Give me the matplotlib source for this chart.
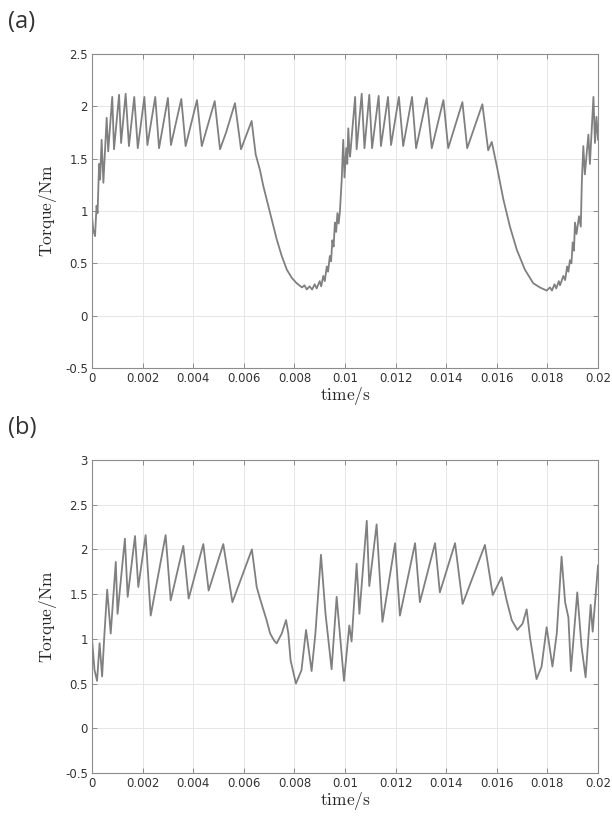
import matplotlib
matplotlib.use("Agg")
import matplotlib.pyplot as plt
import numpy as np

plt.rcParams['mathtext.fontset'] = 'cm'

# ---- data (a) ----
t_a = [0, 0.00005, 0.00012, 0.00018, 0.00022, 0.00028, 0.00032, 0.00038, 0.00045, 0.00058,
       0.00064, 0.0008, 0.00087, 0.00107, 0.00115, 0.00133, 0.00146, 0.00167, 0.00181, 0.00207,
       0.00219, 0.0025, 0.00265, 0.003, 0.00312, 0.00353, 0.0037, 0.00415, 0.00434, 0.00485,
       0.00506, 0.0053, 0.00565, 0.00589, 0.00631, 0.00647, 0.00664, 0.00677, 0.00704, 0.0073,
       0.0075, 0.0077, 0.0079, 0.00809, 0.0083, 0.0084, 0.00849, 0.0086, 0.0087, 0.0088,
       0.00888, 0.009, 0.00906, 0.00914, 0.0092, 0.00928, 0.00933, 0.0094, 0.00945, 0.0095,
       0.00955, 0.0096, 0.00965, 0.0097, 0.00975, 0.0098, 0.00987, 0.00993, 0.00998, 0.01005,
       0.01009, 0.01013, 0.01018, 0.0102, 0.0104, 0.01046, 0.01066, 0.01077, 0.01096, 0.01107,
       0.01133, 0.01142, 0.0117, 0.01182, 0.01213, 0.0123, 0.01265, 0.01281, 0.01323, 0.01343,
       0.01389, 0.01408, 0.01464, 0.01483, 0.01543, 0.01566, 0.0158, 0.016, 0.01626, 0.01652,
       0.01679, 0.01711, 0.01744, 0.0177, 0.01797, 0.0181, 0.01818, 0.01828, 0.01835, 0.01845,
       0.0185, 0.01863, 0.0187, 0.01878, 0.01883, 0.01889, 0.01895, 0.019, 0.01905, 0.01909,
       0.01915, 0.01925, 0.01932, 0.01936, 0.01942, 0.01948, 0.01962, 0.01968, 0.01982, 0.01988,
       0.01994, 0.02]
v_a = [0.95, 0.82, 0.76, 1.05, 0.98, 1.45, 1.30, 1.68, 1.27, 1.89,
       1.57, 2.09, 1.59, 2.11, 1.65, 2.12, 1.62, 2.09, 1.60, 2.09,
       1.63, 2.09, 1.60, 2.08, 1.63, 2.07, 1.62, 2.06, 1.62, 2.05,
       1.59, 1.75, 2.03, 1.59, 1.86, 1.54, 1.39, 1.24, 0.98, 0.73,
       0.57, 0.44, 0.36, 0.31, 0.27, 0.29, 0.25, 0.28, 0.25, 0.30,
       0.26, 0.33, 0.28, 0.38, 0.33, 0.47, 0.42, 0.57, 0.52, 0.72,
       0.66, 0.89, 0.80, 0.98, 0.88, 1.00, 1.30, 1.68, 1.32, 1.60,
       1.45, 1.79, 1.55, 1.52, 2.09, 1.59, 2.12, 1.60, 2.11, 1.60,
       2.10, 1.62, 2.09, 1.63, 2.09, 1.62, 2.09, 1.60, 2.08, 1.60,
       2.06, 1.60, 2.04, 1.60, 2.02, 1.58, 1.66, 1.43, 1.11, 0.85,
       0.63, 0.44, 0.31, 0.27, 0.24, 0.27, 0.24, 0.30, 0.26, 0.33,
       0.29, 0.38, 0.34, 0.47, 0.42, 0.53, 0.50, 0.70, 0.62, 0.89,
       0.78, 0.95, 0.85, 1.27, 1.62, 1.35, 1.73, 1.45, 2.09, 1.65,
       1.90, 1.68]

# ---- data (b) ----
t_b = [0, 0.0001, 0.0002, 0.0003, 0.0004, 0.00048, 0.0006, 0.00074, 0.00094, 0.00101,
       0.0013, 0.00141, 0.0017, 0.00183, 0.00212, 0.00232, 0.00291, 0.00311, 0.00361, 0.00382,
       0.0044, 0.00461, 0.00519, 0.00555, 0.00632, 0.00651, 0.00664, 0.0069, 0.00704, 0.0072,
       0.0073, 0.0075, 0.00767, 0.00776, 0.00785, 0.00806, 0.00828, 0.00846, 0.00868, 0.00883,
       0.00905, 0.00923, 0.00947, 0.00967, 0.00996, 0.01017, 0.01026, 0.01046, 0.01057, 0.01086,
       0.01096, 0.01125, 0.01148, 0.01198, 0.01217, 0.01277, 0.01296, 0.01356, 0.01375, 0.01435,
       0.01465, 0.01553, 0.01584, 0.01619, 0.01639, 0.01659, 0.01681, 0.01702, 0.01718, 0.01731,
       0.01757, 0.01777, 0.01797, 0.0182, 0.01837, 0.01856, 0.0187, 0.01883, 0.01893, 0.01918,
       0.01935, 0.01951, 0.01971, 0.01979, 0.01995, 0.02]
v_b = [1.0, 0.65, 0.53, 0.95, 0.58, 1.0, 1.55, 1.06, 1.86, 1.28,
       2.12, 1.47, 2.15, 1.58, 2.16, 1.26, 2.16, 1.43, 2.04, 1.45,
       2.06, 1.54, 2.06, 1.41, 2.00, 1.58, 1.45, 1.21, 1.06, 0.98,
       0.95, 1.06, 1.21, 1.06, 0.76, 0.50, 0.65, 1.10, 0.64, 1.06,
       1.94, 1.28, 0.66, 1.47, 0.53, 1.15, 0.97, 1.84, 1.28, 2.32,
       1.59, 2.28, 1.19, 2.07, 1.26, 2.07, 1.41, 2.07, 1.52, 2.07,
       1.39, 2.05, 1.49, 1.69, 1.43, 1.21, 1.10, 1.17, 1.33, 1.02,
       0.55, 0.69, 1.13, 0.69, 1.06, 1.92, 1.41, 1.24, 0.64, 1.52,
       0.91, 0.57, 1.38, 1.08, 1.64, 1.82]

x_ticks = [0, 0.002, 0.004, 0.006, 0.008, 0.01, 0.012, 0.014, 0.016, 0.018, 0.02]
x_ticklabels = ["0", "0.002", "0.004", "0.006", "0.008", "0.01", "0.012", "0.014", "0.016", "0.018", "0.02"]
y_ticks_a = [-0.5, 0, 0.5, 1, 1.5, 2, 2.5]
y_ticklabels_a = ["-0.5", "0", "0.5", "1", "1.5", "2", "2.5"]
y_ticks_b = [-0.5, 0, 0.5, 1, 1.5, 2, 2.5, 3]
y_ticklabels_b = ["-0.5", "0", "0.5", "1", "1.5", "2", "2.5", "3"]

W, H = 612, 817
fig = plt.figure(figsize=(W / 100, H / 100), dpi=100)

def make_ax(top_px, bottom_px, t, v, yt, ytl, letter):
    ax = fig.add_axes([92 / W, 1 - bottom_px / H, 506 / W, (bottom_px - top_px) / H])
    ax.plot(t, v, color='#808080', lw=1.3)
    ax.set_xlim(0, 0.02)
    ax.set_ylim(yt[0], yt[-1])
    ax.set_xticks(x_ticks)
    ax.set_xticklabels(x_ticklabels)
    ax.set_yticks(yt)
    ax.set_yticklabels(ytl)
    ax.grid(True, color='#e6e6e6', lw=0.7)
    ax.set_axisbelow(True)
    for s in ax.spines.values():
        s.set_color('#8c8c8c')
        s.set_linewidth(0.8)
    ax.tick_params(direction='in', top=True, right=True, length=3.5, width=0.7,
                   color='#8c8c8c', labelsize=8.5, labelcolor='#333333', pad=3)
    ax.set_xlabel(r'$\mathrm{time/s}$', fontsize=12.5, color='#262626', labelpad=0)
    ax.set_ylabel(r'$\mathrm{Torque/Nm}$', fontsize=12.5, color='#262626', labelpad=4)
    fig.text(8 / W, 1 - (top_px - 44) / H, letter, fontsize=17, family='Open Sans',
             color='#333333', va='top', ha='left')
    return ax

make_ax(54, 368, t_a, v_a, y_ticks_a, y_ticklabels_a, '(a)')
make_ax(460, 773, t_b, v_b, y_ticks_b, y_ticklabels_b, '(b)')

fig.savefig('out.png', dpi=100)
